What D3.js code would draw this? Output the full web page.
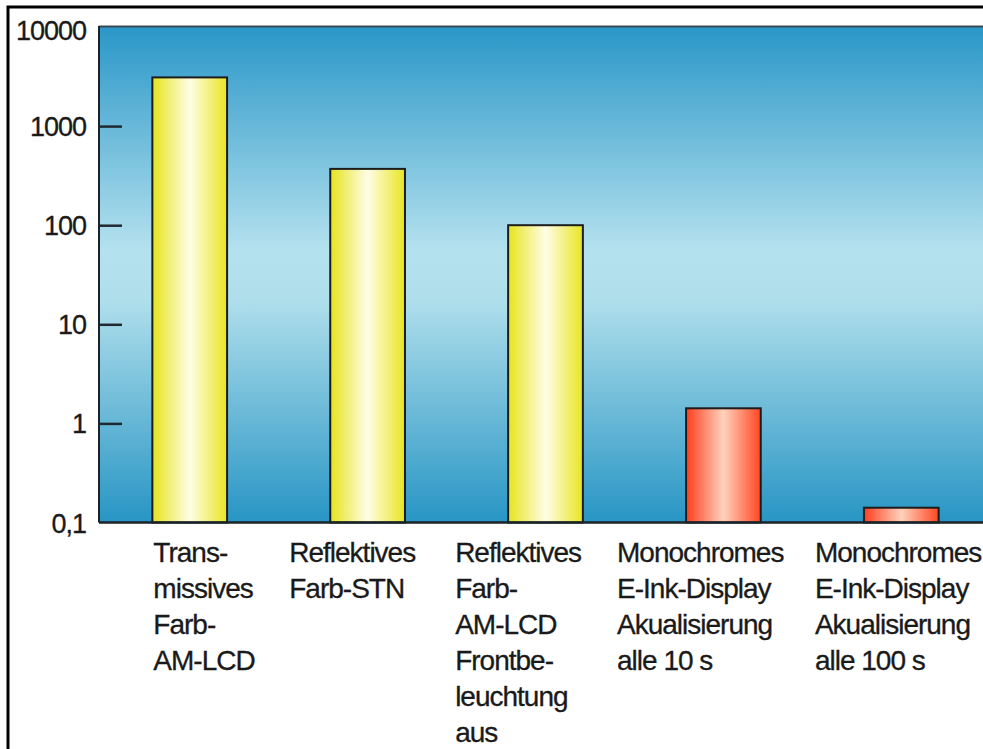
<!DOCTYPE html>
<html>
<head>
<meta charset="utf-8">
<script src="https://cdn.jsdelivr.net/npm/d3@7"></script>
<style>
  body { margin: 0; background: #fff; }
  svg { display: block; font-family: "Liberation Sans", Arial, sans-serif; }
</style>
</head>
<body>
<div id="chart"></div>
<script>
// data
var categories = [
    ["Trans-", "missives", "Farb-", "AM-LCD"],
    ["Reflektives", "Farb-STN"],
    ["Reflektives", "Farb-", "AM-LCD", "Frontbe-", "leuchtung", "aus"],
    ["Monochromes", "E-Ink-Display", "Akualisierung", "alle 10 s"],
    ["Monochromes", "E-Ink-Display", "Akualisierung", "alle 100 s"]
];
var values = [3100, 370, 100, 1.42, 0.141];
var barKind = ["lcd", "lcd", "lcd", "eink", "eink"];
var tickValues = [10000, 1000, 100, 10, 1, 0.1];
var tickLabels = ["10000", "1000", "100", "10", "1", "0,1"];

var width = 983, height = 749;
var plot = {left: 99, right: 992, top: 27, bottom: 522.5};

var svg = d3.select("#chart").append("svg")
    .attr("width", width)
    .attr("height", height);

var defs = svg.append("defs");

// background gradient (dark - light - dark)
var bg = defs.append("linearGradient")
    .attr("id", "bg").attr("x1", 0).attr("y1", 0).attr("x2", 0).attr("y2", 1);
bg.append("stop").attr("offset", "0%").attr("stop-color", "#2a97c8");
bg.append("stop").attr("offset", "45%").attr("stop-color", "#b4e1ee");
bg.append("stop").attr("offset", "55%").attr("stop-color", "#b0dfec");
bg.append("stop").attr("offset", "100%").attr("stop-color", "#2895c4");

// bar gradients
var lcd = defs.append("linearGradient").attr("id", "lcd");
lcd.append("stop").attr("offset", "0%").attr("stop-color", "#e6e41c");
lcd.append("stop").attr("offset", "50%").attr("stop-color", "#fffde6");
lcd.append("stop").attr("offset", "100%").attr("stop-color", "#e8e620");

var eink = defs.append("linearGradient").attr("id", "eink");
eink.append("stop").attr("offset", "0%").attr("stop-color", "#ff3e1e");
eink.append("stop").attr("offset", "50%").attr("stop-color", "#ffd2bc");
eink.append("stop").attr("offset", "100%").attr("stop-color", "#ff4622");

// outer frame
svg.append("rect")
    .attr("x", 8).attr("y", 7)
    .attr("width", width + 20).attr("height", height + 20)
    .attr("fill", "none")
    .attr("stroke", "#000")
    .attr("stroke-width", 3);

// scales
var y = d3.scaleLog()
    .domain([0.1, 10000])
    .range([plot.bottom, plot.top]);

var x = d3.scaleBand()
    .domain(d3.range(values.length))
    .range([plot.left, plot.right])
    .paddingInner(0.58)
    .paddingOuter(0.3);

// plot background
svg.append("rect")
    .attr("x", plot.left).attr("y", plot.top)
    .attr("width", width - plot.left + 10)
    .attr("height", plot.bottom - plot.top)
    .attr("fill", "url(#bg)");

// top border of plot
svg.append("line")
    .attr("x1", plot.left).attr("x2", width)
    .attr("y1", plot.top - 0.5).attr("y2", plot.top - 0.5)
    .attr("stroke", "#3a4a55")
    .attr("stroke-width", 2);

// y axis
var yAxis = d3.axisRight(y)
    .tickValues(tickValues.slice(1, 5))
    .tickSize(23)
    .tickFormat("");

var yg = svg.append("g")
    .attr("transform", "translate(" + plot.left + ",0)")
    .call(yAxis);
yg.select(".domain").remove();
yg.selectAll(".tick line").attr("stroke", "#1e2a30").attr("stroke-width", 2.5);

svg.append("line")
    .attr("x1", plot.left).attr("x2", plot.left)
    .attr("y1", plot.top - 1).attr("y2", plot.bottom)
    .attr("stroke", "#1a2328")
    .attr("stroke-width", 2);

svg.selectAll(".ylabel")
    .data(tickValues)
    .enter().append("text")
    .attr("class", "ylabel")
    .attr("x", 86)
    .attr("y", function(d) { return y(d); })
    .attr("dy", function(d, i) { return i == 0 ? 13 : 10; })
    .attr("text-anchor", "end")
    .attr("font-size", 27)
    .attr("letter-spacing", -1)
    .attr("fill", "#1a1a1a")
    .attr("stroke", "#1a1a1a")
    .attr("stroke-width", 0.3)
    .text(function(d, i) { return tickLabels[i]; });

// bars
svg.selectAll(".bar")
    .data(values)
    .enter().append("rect")
    .attr("class", "bar")
    .attr("x", function(d, i) { return x(i); })
    .attr("y", function(d) { return y(d); })
    .attr("width", x.bandwidth())
    .attr("height", function(d) { return y(0.1) - y(d); })
    .attr("fill", function(d, i) { return "url(#" + barKind[i] + ")"; })
    .attr("stroke", "#1c1c1c")
    .attr("stroke-width", 2);

// bottom axis line
svg.append("line")
    .attr("x1", plot.left).attr("x2", width)
    .attr("y1", plot.bottom).attr("y2", plot.bottom)
    .attr("stroke", "#1a2328")
    .attr("stroke-width", 2.5);

// category labels, left aligned below the bars
var labelShift = [1, -41, -53, -69, -49];
var labels = svg.selectAll(".cat")
    .data(categories)
    .enter().append("text")
    .attr("class", "cat")
    .attr("font-size", 28)
    .attr("letter-spacing", -1)
    .attr("fill", "#1a1a1a")
    .attr("stroke", "#1a1a1a")
    .attr("stroke-width", 0.3)
    .attr("transform", function(d, i) {
        return "translate(" + (x(i) + labelShift[i]) + ",562)";
    });

labels.selectAll("tspan")
    .data(function(d) { return d; })
    .enter().append("tspan")
    .attr("x", 0)
    .attr("y", function(d, j) { return j * 36; })
    .text(function(d) { return d; });
</script>
</body>
</html>
